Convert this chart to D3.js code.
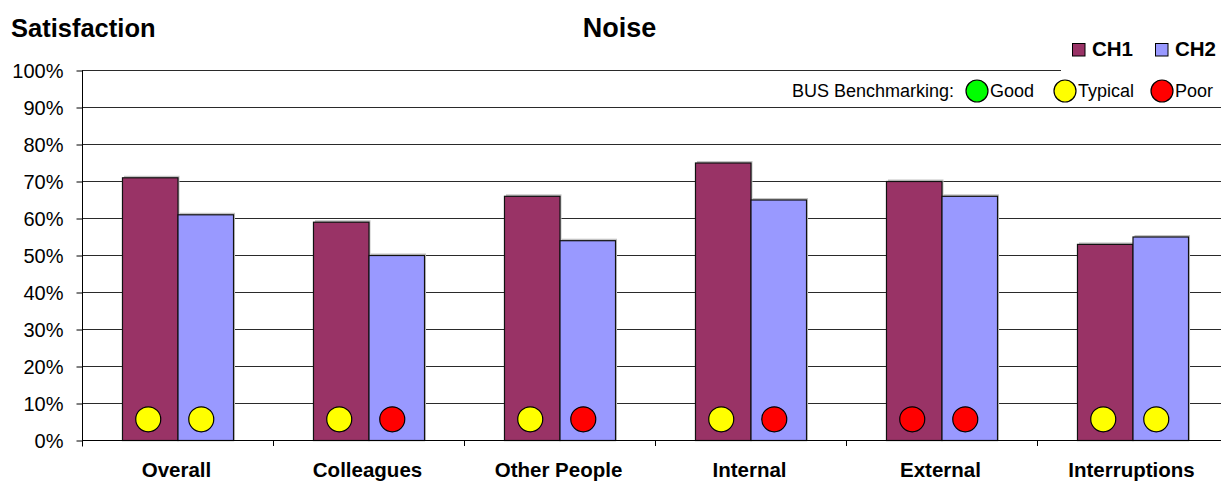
<!DOCTYPE html>
<html>
<head>
<meta charset="utf-8">
<script src="https://cdn.jsdelivr.net/npm/d3@7"></script>
<style>
  html, body { margin: 0; padding: 0; background: #fff; }
  svg { display: block; font-family: "Liberation Sans", Arial, sans-serif; }
</style>
</head>
<body>
<svg id="chart" width="1221" height="482"></svg>
<script>
// Noise satisfaction survey results, two buildings
const categories = ["Overall", "Colleagues", "Other People", "Internal", "External", "Interruptions"];
const seriesNames = ["CH1", "CH2"];
const ch1Values = [71, 59, 66, 75, 70, 53];
const ch2Values = [61, 50, 54, 65, 66, 55];
// BUS benchmark rating for each bar
const ch1Rating = ["Typical", "Typical", "Typical", "Typical", "Poor", "Typical"];
const ch2Rating = ["Typical", "Poor", "Poor", "Poor", "Poor", "Typical"];
const ratingNames = ["Good", "Typical", "Poor"];
const ratingColors = ["#00FF00", "#FFFF00", "#FF0000"];
const seriesColors = ["#993366", "#9999FF"];
const yTicks = [0, 10, 20, 30, 40, 50, 60, 70, 80, 90, 100];
const markerLevel = 5.6; // height at which the rating dots sit

const svg = d3.select("#chart");
const plotLeft = 82, plotTop = 70, plotBottom = 440, step = 191;

const x0 = d3.scaleBand().domain(categories).range([plotLeft, plotLeft + step * categories.length]).padding(0);
const x1 = d3.scaleBand().domain(seriesNames).range([0, x0.bandwidth()]).paddingInner(0).paddingOuter(0.72);
const y = d3.scaleLinear().domain([0, 100]).range([plotBottom, plotTop]);
const color = d3.scaleOrdinal().domain(seriesNames).range(seriesColors);
const ratingColor = d3.scaleOrdinal().domain(ratingNames).range(ratingColors);

// gridlines
svg.append("g")
  .selectAll("line")
  .data(yTicks.filter(d => d > 0))
  .join("line")
  .attr("x1", plotLeft).attr("x2", 1221)
  .attr("y1", d => Math.round(y(d)) + 0.5).attr("y2", d => Math.round(y(d)) + 0.5)
  .attr("stroke", "#2a2a2a").attr("stroke-width", 1);

// y axis
const yAxis = d3.axisLeft(y).tickValues(yTicks).tickFormat(d => d + "%").tickSize(6).tickPadding(13);
const gy = svg.append("g").attr("transform", `translate(${plotLeft + 0.5},0.5)`).call(yAxis);
gy.select(".domain").attr("d", `M0,${plotTop}V${plotBottom + 6}`).attr("stroke", "#000");
gy.selectAll(".tick line").attr("stroke", "#000");
gy.selectAll(".tick text").attr("font-size", 20).attr("fill", "#000")
  .attr("font-family", "'Liberation Sans', Arial, sans-serif").attr("dy", "0.35em");

// bars
const rows = categories.map((c, i) => ({
  cat: c,
  vals: [
    { s: "CH1", v: ch1Values[i], r: ch1Rating[i] },
    { s: "CH2", v: ch2Values[i], r: ch2Rating[i] }
  ]
}));

const groups = svg.append("g").selectAll("g")
  .data(rows).join("g")
  .attr("transform", d => `translate(${x0(d.cat)},0)`);

// soft drop shadow behind each bar
groups.selectAll("rect.shadow")
  .data(d => d.vals).join("rect").attr("class", "shadow")
  .attr("x", d => x1(d.s) + 2).attr("y", d => y(d.v) - 1.5)
  .attr("width", x1.bandwidth()).attr("height", d => plotBottom - y(d.v) + 1.5)
  .attr("fill", "#c4c4c4");

groups.selectAll("rect.bar")
  .data(d => d.vals).join("rect").attr("class", "bar")
  .attr("x", d => x1(d.s) + 0.5).attr("y", d => y(d.v) + 0.5)
  .attr("width", x1.bandwidth()).attr("height", d => plotBottom - y(d.v))
  .attr("fill", d => color(d.s))
  .attr("stroke", "#111").attr("stroke-width", 1.2);

// rating dots
groups.selectAll("circle")
  .data(d => d.vals).join("circle")
  .attr("cx", d => x1(d.s) + x1.bandwidth() / 2 - (d.s === "CH1" ? 1.5 : 4))
  .attr("cy", y(markerLevel))
  .attr("r", 12.5)
  .attr("fill", d => ratingColor(d.r))
  .attr("stroke", "#000").attr("stroke-width", 1.2);

// x axis
const xAxis = d3.axisBottom(x0).tickSize(0).tickFormat("");
const gx = svg.append("g").attr("transform", `translate(0,${plotBottom + 0.5})`).call(xAxis);
gx.select(".domain").attr("d", `M${plotLeft},0H1221`).attr("stroke", "#000");
svg.append("g").selectAll("line")
  .data(categories.slice(1))
  .join("line")
  .attr("x1", d => Math.round(x0(d)) + 0.5).attr("x2", d => Math.round(x0(d)) + 0.5)
  .attr("y1", plotBottom).attr("y2", plotBottom + 6)
  .attr("stroke", "#000");
svg.append("g").selectAll("text")
  .data(categories).join("text")
  .attr("x", d => x0(d) + x0.bandwidth() / 2 - 1)
  .attr("y", 476.5)
  .attr("text-anchor", "middle")
  .attr("font-size", 20.5).attr("font-weight", "bold")
  .text(d => d);

// titles
svg.append("text").attr("x", 11).attr("y", 37).attr("font-size", 25.5).attr("font-weight", "bold").text("Satisfaction");
svg.append("text").attr("x", 619.5).attr("y", 37).attr("text-anchor", "middle").attr("font-size", 27).attr("font-weight", "bold").text("Noise");

// series legend
const lg = svg.append("g");
lg.append("rect").attr("x", 1061).attr("y", 33).attr("width", 160).attr("height", 40).attr("fill", "#fff");
const legX = [1072, 1155];
seriesNames.forEach((s, i) => {
  lg.append("rect").attr("x", legX[i] + 0.5).attr("y", 43.5).attr("width", 12.5).attr("height", 12.5)
    .attr("fill", seriesColors[i]).attr("stroke", "#000").attr("stroke-width", 1);
  lg.append("text").attr("x", legX[i] + 20).attr("y", 56).attr("font-size", 20.5).attr("font-weight", "bold").text(s);
});

// benchmark legend
const bg = svg.append("g");
bg.append("text").attr("x", 792).attr("y", 97).attr("font-size", 18).text("BUS Benchmarking:");
const dotX = [977, 1065, 1162];
ratingNames.forEach((r, i) => {
  bg.append("circle").attr("cx", dotX[i]).attr("cy", 91).attr("r", 11)
    .attr("fill", ratingColors[i]).attr("stroke", "#000").attr("stroke-width", 1.2);
  bg.append("text").attr("x", dotX[i] + 13).attr("y", 97).attr("font-size", 18).text(r);
});
</script>
</body>
</html>
